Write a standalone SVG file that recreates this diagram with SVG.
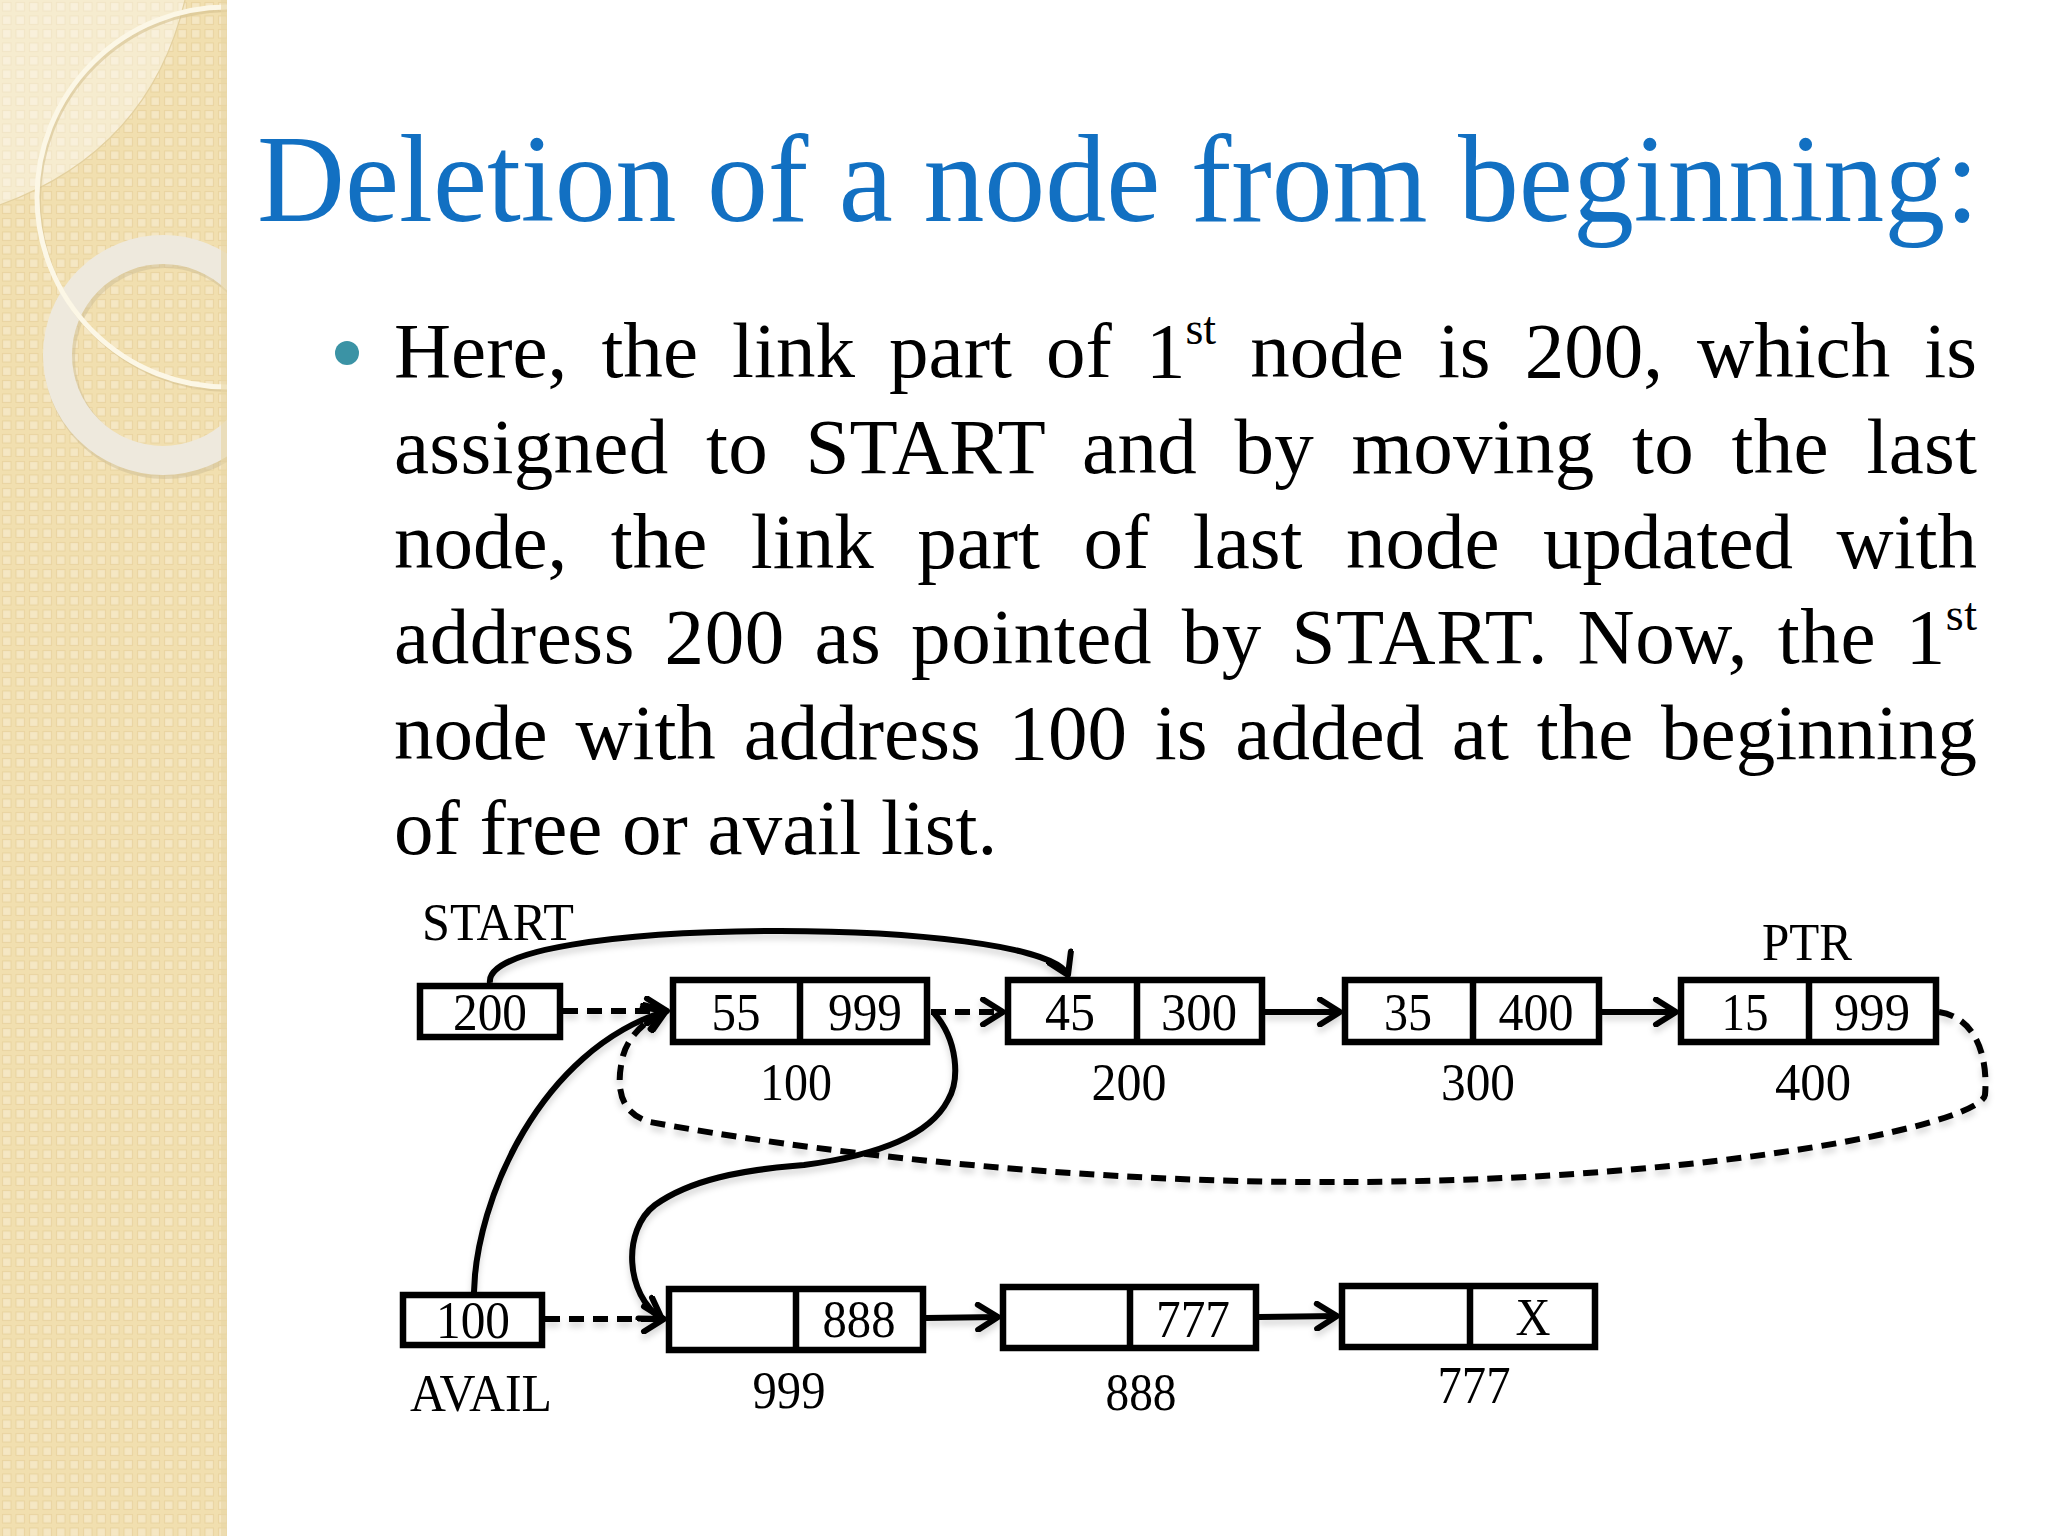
<svg xmlns="http://www.w3.org/2000/svg" width="2048" height="1536" viewBox="0 0 2048 1536">
<defs>
  <pattern id="tex" width="13.5" height="13.5" patternUnits="userSpaceOnUse">
    <rect width="13.5" height="13.5" fill="#F1DFAF"/>
    <rect x="2.5" y="2.5" width="8.5" height="8.5" fill="#F5E7C3" stroke="#E9D39F" stroke-width="1"/>
  </pattern>
  <clipPath id="barclip"><rect x="0" y="0" width="227" height="1536"/></clipPath>
  <marker id="ah" markerUnits="userSpaceOnUse" viewBox="0 0 30 30" markerWidth="30" markerHeight="30" refX="25" refY="15" orient="auto">
    <path d="M5 2.5 L25 15 L5 27.5" fill="none" stroke="#000" stroke-width="6" stroke-linecap="round" stroke-linejoin="round" stroke-dasharray="none"/>
  </marker>
  <filter id="sh" x="-5%" y="-5%" width="110%" height="120%">
    <feDropShadow dx="0" dy="5" stdDeviation="3" flood-color="#000" flood-opacity="0.16"/>
  </filter>
  <style>
    .title{font-family:"Liberation Serif","Times New Roman",serif;font-size:124px;fill:#1270C2}
    .body{font-family:"Liberation Serif","Times New Roman",serif;font-size:79px;fill:#000}
    .sup{font-size:46px}
    .lbl{font-family:"Liberation Serif","Times New Roman",serif;font-size:53px;fill:#000;text-anchor:middle}
    .box{fill:#fff;stroke:#000;stroke-width:6.5}
    .div{stroke:#000;stroke-width:6.5}
    .con{fill:none;stroke:#000;stroke-width:6;stroke-linecap:butt}
    .dash{stroke-dasharray:15 9}
  </style>
</defs>

<rect width="2048" height="1536" fill="#FFFFFF"/>

<!-- left decorative bar -->
<g id="sidebar" clip-path="url(#barclip)">
  <rect x="0" y="0" width="227" height="1536" fill="url(#tex)"/>
  <path d="M0 0 L185 0 Q150 150 0 205 Z" fill="#FFFFFF" fill-opacity="0.4"/>
  <path d="M185 0 Q150 150 0 205" fill="none" stroke="#E3D09F" stroke-width="1.2"/>
  <circle cx="165" cy="358" r="105.5" fill="none" stroke="#CDBE96" stroke-width="31" stroke-opacity="0.5"/>
  <circle cx="163" cy="355" r="105.5" fill="none" stroke="#EEE9DD" stroke-width="29"/>
  <path d="M229 10 A190 190 0 0 0 229 390" fill="none" stroke="#D5C190" stroke-width="4" stroke-opacity="0.6"/>
  <path d="M227 7 A190 190 0 0 0 227 387" fill="none" stroke="#FCF7E6" stroke-width="5"/>
  <rect x="221" y="0" width="6" height="1536" fill="#E8D5A4" fill-opacity="0.6"/>
</g>

<!-- title -->
<text class="title" x="257" y="221" textLength="1722" lengthAdjust="spacingAndGlyphs">Deletion of a node from beginning:</text>

<!-- bullet paragraph -->
<circle cx="347" cy="353" r="12" fill="#3B93A5"/>
<g id="paragraph">
  <text class="body" x="394" y="377" word-spacing="14.3" textLength="1583" lengthAdjust="spacing">Here, the link part of 1<tspan class="sup" dy="-33">st</tspan><tspan dy="33"> node is 200, which is</tspan></text>
  <text class="body" x="394" y="473" word-spacing="17.4" textLength="1583" lengthAdjust="spacing">assigned to START and by moving to the last</text>
  <text class="body" x="394" y="568" word-spacing="23.7" textLength="1583" lengthAdjust="spacing">node, the link part of last node updated with</text>
  <text class="body" x="394" y="663" word-spacing="9.3" textLength="1583" lengthAdjust="spacing">address 200 as pointed by START. Now, the 1<tspan class="sup" dy="-33">st</tspan></text>
  <text class="body" x="394" y="759" word-spacing="8.1" textLength="1583" lengthAdjust="spacing">node with address 100 is added at the beginning</text>
  <text class="body" x="394" y="854">of free or avail list.</text>
</g>

<!-- connectors -->
<g id="connectors" filter="url(#sh)">
  <path class="con" d="M490 983 C480 915 1040 915 1068 975" marker-end="url(#ah)"/>
  <line class="con dash" x1="563" y1="1011" x2="667" y2="1011" marker-end="url(#ah)"/>
  <line class="con dash" x1="931" y1="1012" x2="1003" y2="1012" marker-end="url(#ah)"/>
  <line class="con" x1="1265" y1="1012" x2="1340" y2="1012" marker-end="url(#ah)"/>
  <line class="con" x1="1602" y1="1012" x2="1676" y2="1012" marker-end="url(#ah)"/>
  <path class="con dash" d="M1939 1012 C1978 1018 1988 1060 1985 1095 C1980 1125 1700 1185 1300 1182 C1050 1180 800 1150 650 1122 C615 1112 618 1080 622 1060 C626 1038 645 1020 666 1011" marker-end="url(#ah)"/>
  <path class="con" d="M474 1292 C476 1200 540 1050 666 1011" marker-end="url(#ah)"/>
  <path class="con" d="M934 1013 C958 1040 960 1080 948 1100 C930 1135 880 1155 804 1165 C740 1170 690 1180 655 1205 C622 1230 625 1295 662 1319" marker-end="url(#ah)"/>
  <line class="con dash" x1="545" y1="1319" x2="664" y2="1319" marker-end="url(#ah)"/>
  <line class="con" x1="926" y1="1318" x2="998" y2="1317" marker-end="url(#ah)"/>
  <line class="con" x1="1259" y1="1317" x2="1337" y2="1316" marker-end="url(#ah)"/>
</g>

<!-- top row -->
<g id="start">
  <text class="lbl" x="422" y="940" style="text-anchor:start" textLength="152" lengthAdjust="spacingAndGlyphs">START</text>
  <rect class="box" x="420" y="986" width="140" height="51"/>
  <text class="lbl" x="490" y="1030" textLength="74" lengthAdjust="spacingAndGlyphs">200</text>
</g>
<g id="node100">
  <rect class="box" x="673" y="980" width="254" height="62"/>
  <line class="div" x1="800" y1="980" x2="800" y2="1042"/>
  <text class="lbl" x="736" y="1030" textLength="49" lengthAdjust="spacingAndGlyphs">55</text>
  <text class="lbl" x="865" y="1030" textLength="74" lengthAdjust="spacingAndGlyphs">999</text>
  <text class="lbl" x="796" y="1100" textLength="72" lengthAdjust="spacingAndGlyphs">100</text>
</g>
<g id="node200">
  <rect class="box" x="1008" y="980" width="254" height="62"/>
  <line class="div" x1="1137" y1="980" x2="1137" y2="1042"/>
  <text class="lbl" x="1070" y="1030" textLength="50" lengthAdjust="spacingAndGlyphs">45</text>
  <text class="lbl" x="1199" y="1030" textLength="76" lengthAdjust="spacingAndGlyphs">300</text>
  <text class="lbl" x="1129" y="1100" textLength="75" lengthAdjust="spacingAndGlyphs">200</text>
</g>
<g id="node300">
  <rect class="box" x="1345" y="980" width="254" height="62"/>
  <line class="div" x1="1473" y1="980" x2="1473" y2="1042"/>
  <text class="lbl" x="1408" y="1030" textLength="48" lengthAdjust="spacingAndGlyphs">35</text>
  <text class="lbl" x="1536" y="1030" textLength="75" lengthAdjust="spacingAndGlyphs">400</text>
  <text class="lbl" x="1478" y="1100" textLength="74" lengthAdjust="spacingAndGlyphs">300</text>
</g>
<g id="node400">
  <text class="lbl" x="1807" y="960" textLength="90" lengthAdjust="spacingAndGlyphs">PTR</text>
  <rect class="box" x="1681" y="980" width="255" height="62"/>
  <line class="div" x1="1809" y1="980" x2="1809" y2="1042"/>
  <text class="lbl" x="1745" y="1030" textLength="47" lengthAdjust="spacingAndGlyphs">15</text>
  <text class="lbl" x="1872" y="1030" textLength="76" lengthAdjust="spacingAndGlyphs">999</text>
  <text class="lbl" x="1813" y="1100" textLength="76" lengthAdjust="spacingAndGlyphs">400</text>
</g>

<!-- bottom row -->
<g id="avail">
  <rect class="box" x="403" y="1295" width="139" height="50"/>
  <text class="lbl" x="473" y="1338" textLength="74" lengthAdjust="spacingAndGlyphs">100</text>
  <text class="lbl" x="481" y="1411" textLength="142" lengthAdjust="spacingAndGlyphs">AVAIL</text>
</g>
<g id="node999">
  <rect class="box" x="669" y="1289" width="254" height="61"/>
  <line class="div" x1="796" y1="1289" x2="796" y2="1350"/>
  <text class="lbl" x="859" y="1337" textLength="73" lengthAdjust="spacingAndGlyphs">888</text>
  <text class="lbl" x="789" y="1408" textLength="73" lengthAdjust="spacingAndGlyphs">999</text>
</g>
<g id="node888">
  <rect class="box" x="1003" y="1287" width="253" height="61"/>
  <line class="div" x1="1130" y1="1287" x2="1130" y2="1348"/>
  <text class="lbl" x="1193" y="1337" textLength="74" lengthAdjust="spacingAndGlyphs">777</text>
  <text class="lbl" x="1141" y="1410" textLength="71" lengthAdjust="spacingAndGlyphs">888</text>
</g>
<g id="node777">
  <rect class="box" x="1342" y="1286" width="253" height="61"/>
  <line class="div" x1="1470" y1="1286" x2="1470" y2="1347"/>
  <text class="lbl" x="1533" y="1335" textLength="35" lengthAdjust="spacingAndGlyphs">X</text>
  <text class="lbl" x="1474" y="1403" textLength="73" lengthAdjust="spacingAndGlyphs">777</text>
</g>
</svg>
